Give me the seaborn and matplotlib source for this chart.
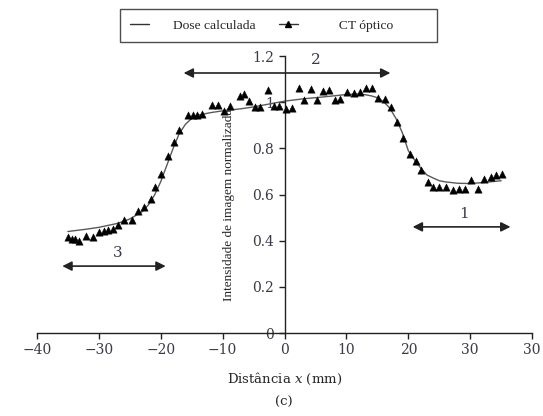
import matplotlib
matplotlib.use("Agg")
import matplotlib.pyplot as plt
from matplotlib.lines import Line2D
import seaborn as sns
import pandas as pd

# calculated dose profile
dose_x = [-35, -32, -30, -27, -25, -23, -22, -21, -20, -19, -18, -17, -16, -15, -14,
          -12, -10, -7, -5, -2, 0, 3, 5, 8, 10, 12, 13, 14, 15, 16, 17, 18, 19, 20,
          21, 22, 23, 24, 25, 26, 28, 30, 32, 35]
dose_y = [0.44, 0.45, 0.458, 0.475, 0.494, 0.526, 0.555, 0.598, 0.656, 0.728, 0.80,
          0.865, 0.905, 0.93, 0.944, 0.955, 0.963, 0.972, 0.98, 0.995, 1.005, 1.015,
          1.02, 1.028, 1.034, 1.036, 1.033, 1.028, 1.02, 1.003, 0.975, 0.93, 0.87,
          0.79, 0.75, 0.715, 0.685, 0.672, 0.66, 0.655, 0.649, 0.648, 0.652, 0.66]

# optical CT measurements
ct_x = [-35.0, -34.3, -33.9, -33.2, -32.0, -31.0, -29.9, -29.1, -28.5, -27.7, -26.9,
        -25.9, -24.7, -23.7, -22.7, -21.6, -20.9, -19.9, -18.8, -17.8, -17.1, -15.6,
        -14.8, -14.1, -13.3, -11.7, -10.8, -9.7, -8.8, -7.2, -6.6, -5.7, -4.7, -3.9,
        -2.7, -1.7, -0.9, 0.3, 1.2, 2.3, 3.1, 4.2, 5.3, 6.2, 7.2, 8.1, 9.0, 10.1,
        11.2, 12.2, 13.1, 14.2, 15.1, 16.2, 17.2, 18.2, 19.1, 20.2, 21.2, 22.1, 23.1,
        24.0, 25.0, 26.1, 27.2, 28.2, 29.1, 30.2, 31.2, 32.2, 33.3, 34.2, 35.1]
ct_y = [0.415, 0.409, 0.406, 0.40, 0.419, 0.417, 0.436, 0.442, 0.446, 0.452, 0.469,
        0.49, 0.488, 0.53, 0.547, 0.579, 0.634, 0.689, 0.766, 0.829, 0.88, 0.946,
        0.946, 0.946, 0.949, 0.99, 0.99, 0.962, 0.984, 1.027, 1.036, 1.006, 0.978,
        0.978, 1.053, 0.986, 0.986, 0.97, 0.976, 1.06, 1.008, 1.057, 1.008, 1.048,
        1.054, 1.008, 1.014, 1.045, 1.039, 1.045, 1.064, 1.064, 1.017, 1.014, 0.979,
        0.916, 0.846, 0.776, 0.747, 0.706, 0.656, 0.634, 0.634, 0.634, 0.62, 0.623,
        0.623, 0.663, 0.623, 0.666, 0.678, 0.685, 0.689]

x_ticks = [-40, -30, -20, -10, 0, 10, 20, 30, 40]
x_tick_labels = ["\u221240", "\u221230", "\u221220", "\u221210", "0", "10", "20", "30", "30"]
y_ticks = [0, 0.2, 0.4, 0.6, 0.8, 1, 1.2]
y_tick_labels = ["0", "0.2", "0.4", "0.6", "0.8", "1", "1.2"]

# regions: arrow start, arrow end, arrow y, label, label x
region_start = [20.7, -16.3, -35.9]
region_end = [36.5, 17.1, -19.2]
region_y = [0.46, 1.127, 0.29]
region_label = ["1", "2", "3"]
region_label_x = [29.0, 5.0, -27.0]

sns.set_style("ticks")
plt.rcParams["font.family"] = ["Liberation Serif", "DejaVu Serif"]
plt.rcParams["mathtext.fontset"] = "dejavuserif"

dose_df = pd.DataFrame({"x": dose_x, "y": dose_y})
ct_df = pd.DataFrame({"x": ct_x, "y": ct_y})

fig = plt.figure(figsize=(5.43, 4.16), dpi=100)
ax = fig.add_axes([0.068, 0.1995, 0.912, 0.6655])

sns.lineplot(data=dose_df, x="x", y="y", ax=ax, color="#5a5a5a", lw=1.0, sort=False)
sns.scatterplot(data=ct_df, x="x", y="y", ax=ax, marker="^", color="black",
                s=28, edgecolor="black", linewidth=0.3, zorder=3)

ax.set_xlim(-40, 40)
ax.set_ylim(0, 1.2)
ax.spines["left"].set_position(("data", 0))
ax.spines["top"].set_visible(False)
ax.spines["right"].set_visible(False)
for sp in ("left", "bottom"):
    ax.spines[sp].set_color("#222222")
    ax.spines[sp].set_linewidth(1.0)

tick_font = {"family": "DejaVu Serif", "size": 10}
ax.set_xticks(x_ticks)
ax.set_xticklabels(x_tick_labels, fontdict=tick_font)
ax.set_yticks(y_ticks)
ax.set_yticklabels(y_tick_labels, fontdict=tick_font)
ax.tick_params(axis="both", colors="#222222", labelcolor="#3a3a48",
               length=4, width=1.0)

ax.set_xlabel("Distância $x$ (mm)", family="DejaVu Serif", fontsize=9.5, labelpad=10)
ax.set_ylabel("Intensidade de imagem normalizada", fontsize=9.5)
ax.yaxis.set_label_coords(0.40, 0.462)
fig.text(0.523, 0.033, "(c)", ha="center", va="center", family="DejaVu Serif",
         fontsize=9.5)

for x0, x1, yy, lab, lx in zip(region_start, region_end, region_y,
                               region_label, region_label_x):
    ax.annotate("", xy=(x0, yy), xytext=(x1, yy),
                arrowprops=dict(arrowstyle="<|-|>", color="#222222", lw=1.2,
                                mutation_scale=14, shrinkA=0, shrinkB=0))
    ax.text(lx, yy + 0.025, lab, ha="center", va="bottom",
            family="DejaVu Serif", fontsize=11, color="#3a3a48")

handles = [
    Line2D([], [], color="#333333", lw=1.0),
    Line2D([], [], color="#333333", lw=1.0, marker="^", markersize=4,
           markerfacecolor="black", markeredgecolor="black"),
]
labels = ["Dose calculada", "\u00a0" * 5 + "CT óptico" + "\u00a0" * 10]
leg = fig.legend(handles, labels, loc="upper left",
                 bbox_to_anchor=(0.221, 0.978, 0.584, 0.0), mode="expand",
                 ncol=2, fontsize=9.7, frameon=True, fancybox=False,
                 handlelength=1.4, handletextpad=1.8, borderpad=0.75,
                 borderaxespad=0.0, columnspacing=2.0)
leg.get_frame().set_edgecolor("#222222")
leg.get_frame().set_linewidth(1.0)

fig.savefig("out.png", dpi=100)
